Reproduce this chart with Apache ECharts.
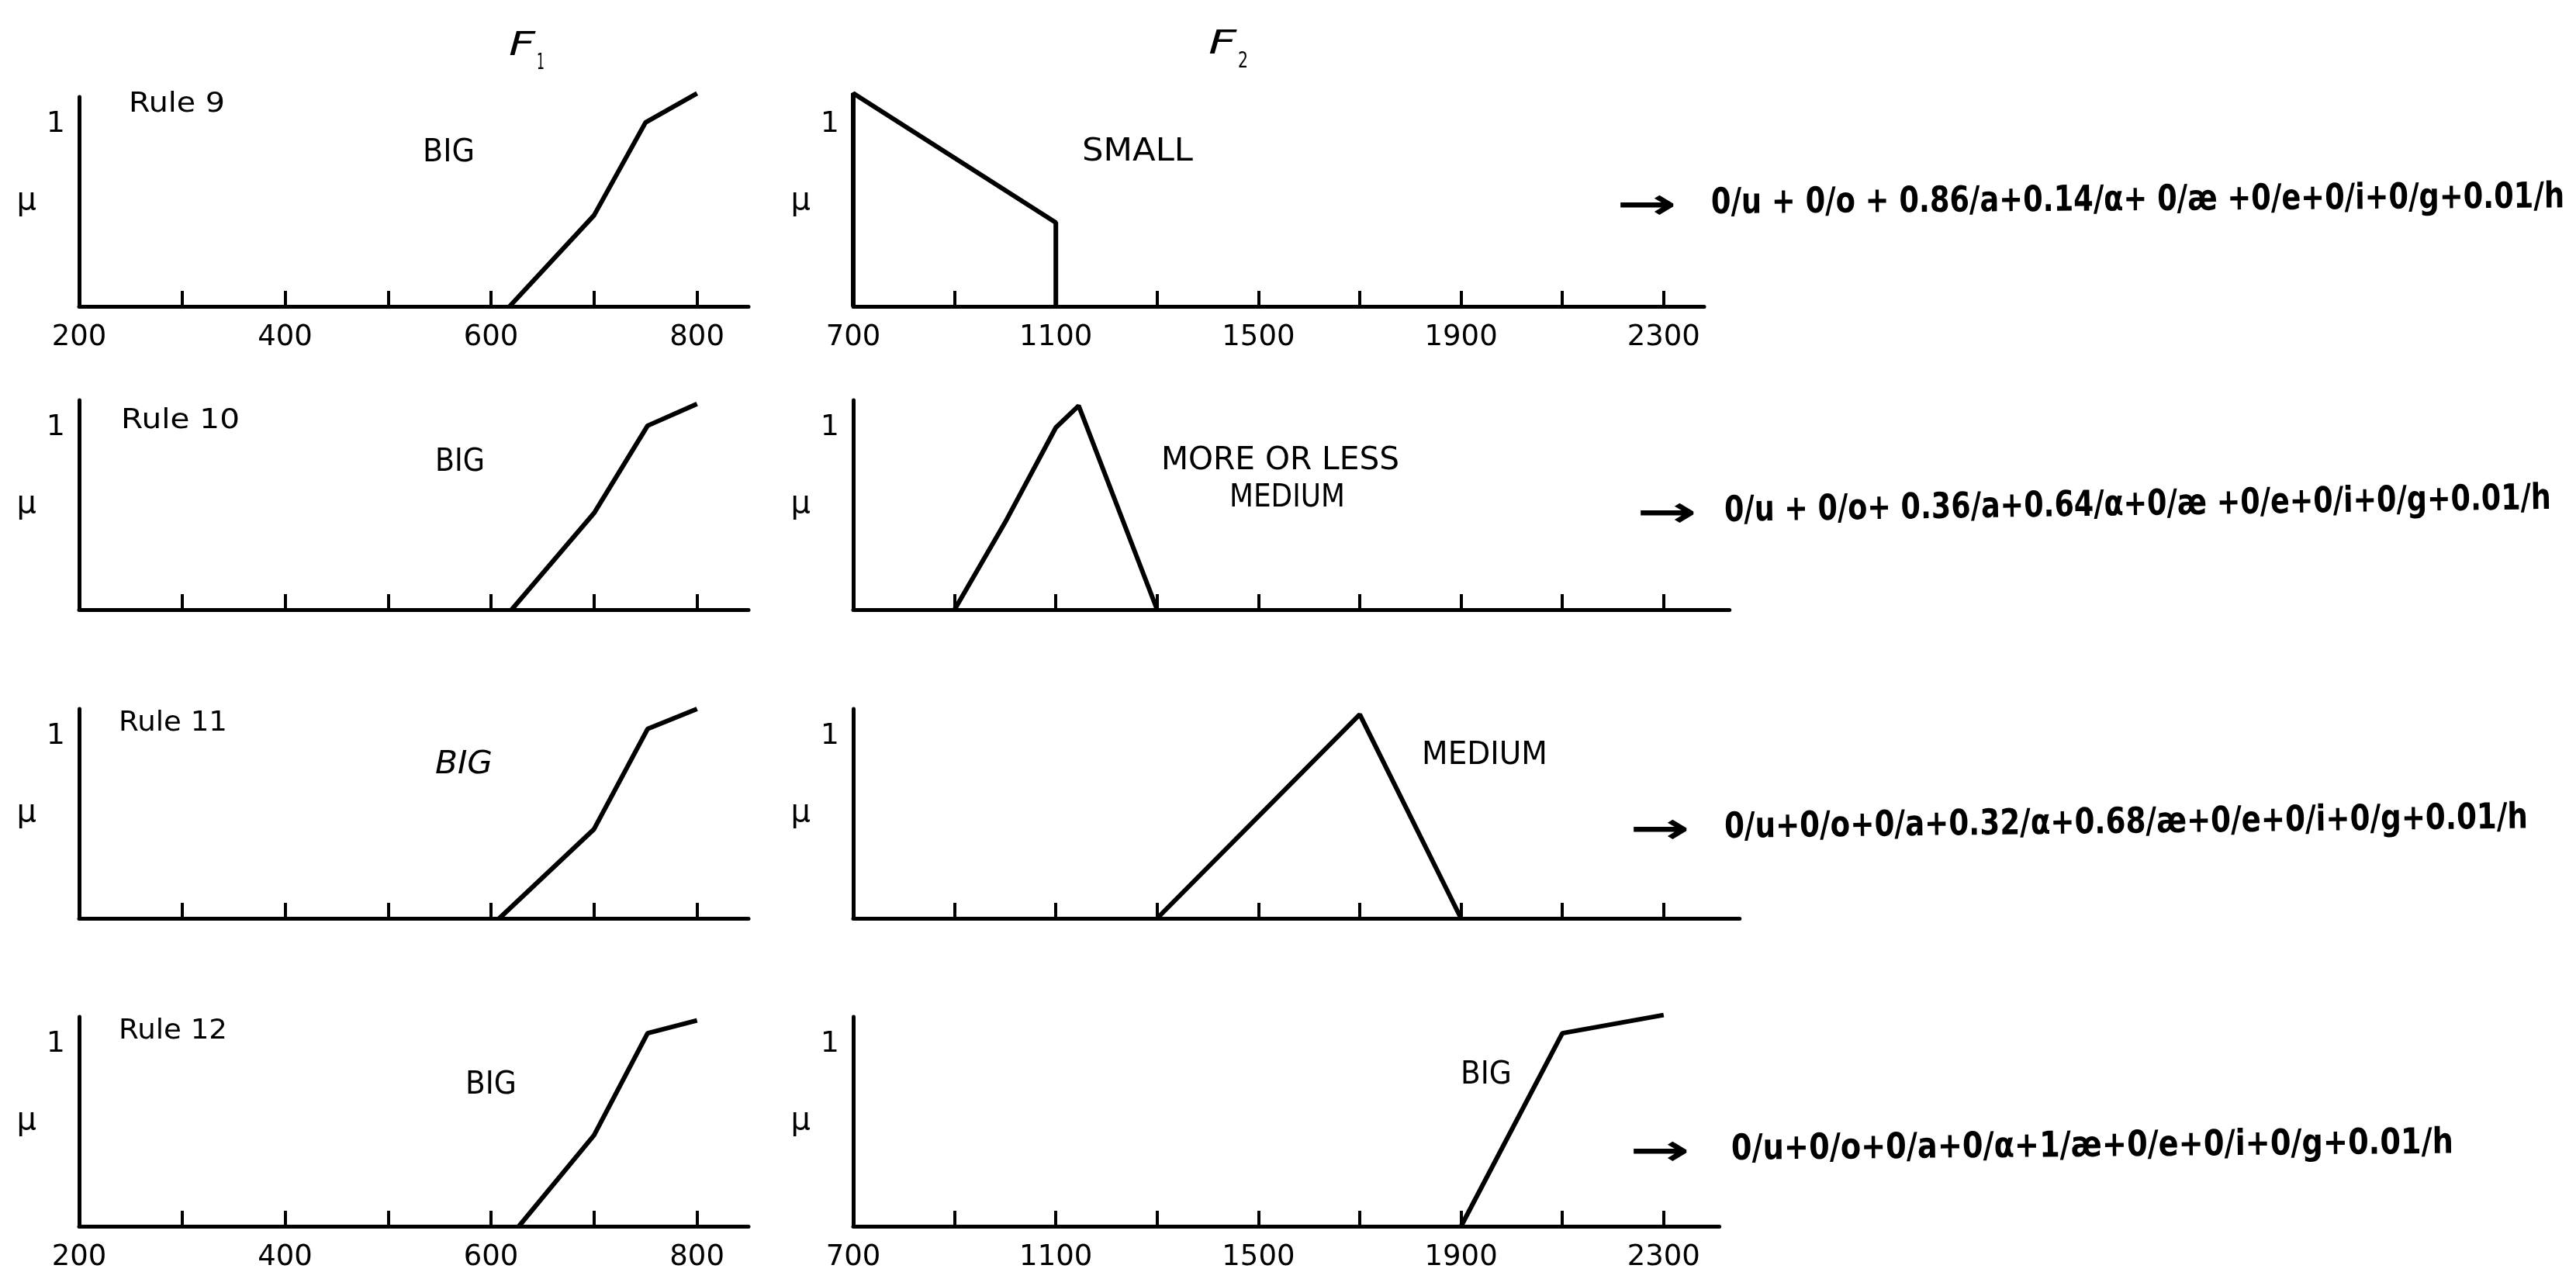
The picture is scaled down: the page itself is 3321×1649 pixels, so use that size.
<!DOCTYPE html>
<html>
<head>
<meta charset="UTF-8">
<title>Rules 9 - 12</title>
<script src="https://cdn.jsdelivr.net/npm/echarts@6/dist/echarts.min.js"></script>
<style>body{margin:0;background:#fff;}</style>
</head>
<body>
<div id="main" style="width:3321px;height:1649px;"></div>
<script type="text/javascript">
// axis values
var f1Labels = [200, 400, 600, 800];
var f1Ticks = [300, 400, 500, 600, 700, 800];
var f2Labels = [700, 1100, 1500, 1900, 2300];
var f2Ticks = [900, 1100, 1300, 1500, 1700, 1900, 2100, 2300];
var f2Max = [2380, 2430, 2450, 2410];

var rules = ['Rule 9', 'Rule 10', 'Rule 11', 'Rule 12'];

// membership curves (x, mu)
var f1Rule9 = [[618, 0], [700, 0.5], [750, 1.01], [800, 1.17]];
var f1Rule10 = [[620, 0], [700, 0.53], [752, 1.01], [800, 1.13]];
var f1Rule11 = [[608, 0], [700, 0.49], [752, 1.04], [800, 1.15]];
var f1Rule12 = [[627, 0], [700, 0.5], [752, 1.06], [800, 1.13]];
var f2Rule9 = [[700, 0], [700, 1.17], [1100, 0.46], [1100, 0]];
var f2Rule10 = [[900, 0], [1000, 0.48], [1100, 1.0], [1145, 1.12], [1300, 0]];
var f2Rule11 = [[1300, 0], [1700, 1.12], [1900, 0]];
var f2Rule12 = [[1900, 0], [2100, 1.06], [2300, 1.16]];

var outputs = [
    '0/u + 0/o + 0.86/a+0.14/α+ 0/æ +0/e+0/i+0/g+0.01/h',
    '0/u + 0/o+ 0.36/a+0.64/α+0/æ +0/e+0/i+0/g+0.01/h',
    '0/u+0/o+0/a+0.32/α+0.68/æ+0/e+0/i+0/g+0.01/h',
    '0/u+0/o+0/a+0/α+1/æ+0/e+0/i+0/g+0.01/h'
];

var f1Data = [f1Rule9, f1Rule10, f1Rule11, f1Rule12];
var f2Data = [f2Rule9, f2Rule10, f2Rule11, f2Rule12];

var myChart = echarts.init(document.getElementById('main'));

var FONT = '"DejaVu Sans", sans-serif';
var rowBottom = [395, 786, 1184, 1581];
var H = 270;
var grids = [], xAxes = [], yAxes = [], series = [];

function plain(v) { return String(v); }

function addPanel(row, left, width, min, max, ticks, labels, data) {
    var k = grids.length;
    var showLab = (row == 0 || row == 3);
    grids.push({left: left, top: rowBottom[row] - H, width: width, height: H});
    xAxes.push({
        type: 'value', gridIndex: k, min: min, max: max,
        axisLine: {lineStyle: {color: '#000', width: 5}},
        axisTick: {inside: true, length: 20, customValues: ticks, lineStyle: {color: '#000', width: 4}},
        axisLabel: {show: showLab, customValues: labels, formatter: plain, color: '#000',
            fontSize: 37, fontFamily: FONT, margin: 22},
        splitLine: {show: false}
    });
    yAxes.push({
        type: 'value', gridIndex: k, min: 0, max: 1.15,
        name: 'μ', nameLocation: 'middle', nameGap: 55, nameRotate: 0,
        nameTextStyle: {color: '#000', fontSize: 40, fontFamily: FONT},
        axisLine: {show: true, lineStyle: {color: '#000', width: 5}},
        axisTick: {show: false},
        axisLabel: {customValues: [1], formatter: plain, color: '#000', fontSize: 38,
            fontFamily: FONT, margin: 18},
        splitLine: {show: false}
    });
    series.push({
        type: 'line', xAxisIndex: k, yAxisIndex: k, data: data,
        symbol: 'none', clip: false, silent: true,
        lineStyle: {color: '#000', width: 6}
    });
}

for (var i = 0; i < 4; i++) {
    addPanel(i, 102, 863, 200, 850, f1Ticks, f1Labels, f1Data[i]);
    addPanel(i, 1100, (f2Max[i] - 700) * 0.653, 700, f2Max[i], f2Ticks, f2Labels, f2Data[i]);
}

// text: squeeze each string to the width it takes in the scan
var ctx = document.createElement('canvas').getContext('2d');
function txt(x, y, text, font, w, rot) {
    ctx.font = font;
    var sx = w ? w / ctx.measureText(text).width : 1;
    return {
        type: 'text', x: x, y: y, scaleX: sx, rotation: rot || 0, silent: true,
        style: {text: text, font: font, fill: '#000', textAlign: 'left', textVerticalAlign: 'middle'}
    };
}

var g = [];
g.push(txt(656, 60, 'F', 'italic 42px ' + FONT, 34));
g.push(txt(692, 82, '1', '28px ' + FONT, 10));
g.push(txt(1558, 58, 'F', 'italic 42px ' + FONT, 36));
g.push(txt(1596, 80, '2', '28px ' + FONT, 13));

var rulePos = [[166, 135, 124], [156, 543, 153], [153, 933, 140], [153, 1330, 140]];
for (var r = 0; r < 4; r++) {
    g.push(txt(rulePos[r][0], rulePos[r][1], rules[r], '36px ' + FONT, rulePos[r][2]));
}
g.push(txt(545, 198, 'BIG', '40px ' + FONT, 67));
g.push(txt(561, 597, 'BIG', '40px ' + FONT, 64));
g.push(txt(561, 987, 'BIG', 'italic 40px ' + FONT, 74));
g.push(txt(600, 1400, 'BIG', '40px ' + FONT, 66));
g.push(txt(1395, 197, 'SMALL', '40px ' + FONT, 143));
g.push(txt(1497, 595, 'MORE OR LESS', '40px ' + FONT, 307));
g.push(txt(1585, 643, 'MEDIUM', '40px ' + FONT, 149));
g.push(txt(1833, 975, 'MEDIUM', '40px ' + FONT, 162));
g.push(txt(1883, 1387, 'BIG', '40px ' + FONT, 66));

var outPos = [[2084, 2206, 263, 1100, 0.007], [2110, 2223, 660, 1066, 0.015],
              [2101, 2223, 1068, 1036, 0.012], [2101, 2232, 1483, 931, 0.009]];
for (var r = 0; r < 4; r++) {
    var p = outPos[r];
    g.push(txt(p[0], p[2] + 4, '→', 'bold 56px ' + FONT, 78));
    g.push(txt(p[1], p[2], outputs[r], 'bold 46px ' + FONT, p[3], p[4]));
}

var option = {
    animation: false,
    backgroundColor: '#fff',
    grid: grids,
    xAxis: xAxes,
    yAxis: yAxes,
    series: series,
    graphic: g
};
myChart.setOption(option);
</script>
</body>
</html>
